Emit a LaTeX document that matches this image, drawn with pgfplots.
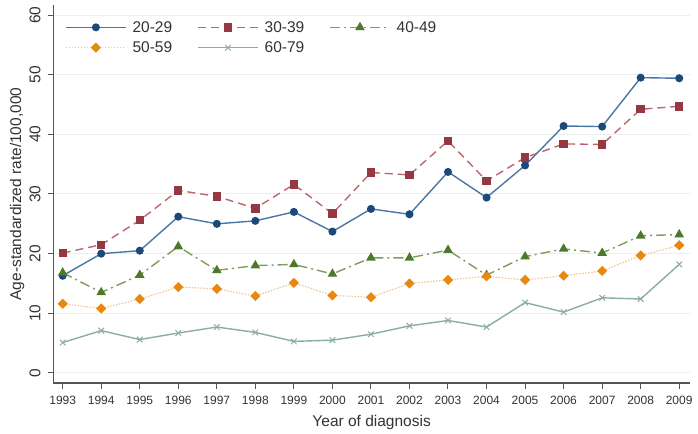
\documentclass[border=0pt]{standalone}
\usepackage{fontspec}
\setmainfont{Liberation Sans}
\usepackage{pgfplots}
\pgfplotsset{compat=1.18}

\definecolor{c20}{HTML}{1B4A7A}
\definecolor{c20l}{HTML}{4A76A6}
\definecolor{c30}{HTML}{963842}
\definecolor{c30l}{HTML}{BE6470}
\definecolor{c40}{HTML}{4C7A2A}
\definecolor{c40l}{HTML}{7E9C5C}
\definecolor{c50}{HTML}{E8880F}
\definecolor{c50l}{HTML}{F2C692}
\definecolor{c60}{HTML}{8AADA4}
\definecolor{gridc}{HTML}{E9F0F2}
\definecolor{axc}{HTML}{555555}
\definecolor{txt}{HTML}{333333}

\begin{document}
\begin{tikzpicture}
\useasboundingbox (-53.3pt,-50.7pt) rectangle (644.7pt,383pt);
\begin{axis}[
    scale only axis,
    width=636.7pt, height=378pt,
    xmin=1992.756, xmax=2009.28,
    ymin=-1.68, ymax=61.68,
    axis lines*=left,
    axis line style={axc, line width=1.1pt},
    xtick={1993,...,2009},
    ytick={0,10,...,60},
    xticklabel style={/pgf/number format/set thousands separator={},
        font=\fontsize{12}{13}\selectfont},
    /pgf/number format/assume math mode=true,
    tick align=outside,
    major tick length=5.5pt,
    tick style={axc, line width=1pt},
    ymajorgrids,
    grid style={gridc, line width=1pt},
    ticklabel style={text=txt},
    xticklabel shift=4pt,
    yticklabel style={rotate=90, anchor=south, inner sep=2pt,
        font=\fontsize{15.5}{16}\selectfont},
    yticklabel shift=5pt,
    xlabel={Year of diagnosis},
    ylabel={Age-standardized rate/100,000},
    label style={font=\fontsize{15.5}{16}\selectfont, text=txt},
    xlabel style={at={(axis description cs:0.5,-0.105)}, anchor=center},
    ylabel style={at={(axis description cs:-0.057,0.5)}, anchor=center},
    legend columns=3,
    legend style={at={(11.7pt,364pt)}, anchor=north west, draw=none, fill=none,
        inner sep=0pt, font=\fontsize{15.5}{16}\selectfont, text=txt,
        /tikz/every even column/.append style={column sep=23pt},
        row sep=4pt},
    legend cell align=left,
    legend image code/.code={
        \draw[mark repeat=2, mark phase=2] plot coordinates {(0pt,0pt) (30pt,0pt) (60pt,0pt)};
        \path (64pt,0pt);
    },
]
\addplot[c20l, line width=1.4pt, mark=*, mark size=3.3pt,
    mark options={solid, fill=c20, draw=c20}] coordinates {
    (1993,16.3) (1994,20.0) (1995,20.5) (1996,26.2) (1997,25.0) (1998,25.5)
    (1999,27.0) (2000,23.7) (2001,27.5) (2002,26.6) (2003,33.7) (2004,29.4)
    (2005,34.8) (2006,41.4) (2007,41.3) (2008,49.5) (2009,49.4)
};
\addlegendentry{20-29}
\addplot[c30l, line width=1.4pt, dash pattern=on 8pt off 5pt, mark=square*, mark size=3.5pt,
    mark options={solid, fill=c30, draw=c30}] coordinates {
    (1993,20.1) (1994,21.5) (1995,25.6) (1996,30.6) (1997,29.6) (1998,27.6)
    (1999,31.6) (2000,26.7) (2001,33.6) (2002,33.2) (2003,38.9) (2004,32.2)
    (2005,36.1) (2006,38.4) (2007,38.3) (2008,44.2) (2009,44.7)
};
\addlegendentry{30-39}
\addplot[c40l, line width=1.4pt, dash pattern=on 10pt off 4pt on 2pt off 4pt, mark=triangle*, mark size=4.2pt,
    mark options={solid, fill=c40, draw=c40}] coordinates {
    (1993,16.8) (1994,13.5) (1995,16.4) (1996,21.2) (1997,17.2) (1998,18.0)
    (1999,18.2) (2000,16.6) (2001,19.3) (2002,19.3) (2003,20.6) (2004,16.4)
    (2005,19.5) (2006,20.8) (2007,20.1) (2008,23.0) (2009,23.2)
};
\addlegendentry{40-49}
\addplot[c50l, line width=1.2pt, dash pattern=on 1.5pt off 1.5pt, mark=square*, mark size=3pt,
    mark options={solid, rotate=45, fill=c50, draw=c50}] coordinates {
    (1993,11.6) (1994,10.8) (1995,12.4) (1996,14.4) (1997,14.1) (1998,12.9)
    (1999,15.1) (2000,13.0) (2001,12.7) (2002,15.0) (2003,15.6) (2004,16.2)
    (2005,15.6) (2006,16.3) (2007,17.1) (2008,19.7) (2009,21.4)
};
\addlegendentry{50-59}
\addplot[c60, line width=1.4pt, mark=x, mark size=4pt,
    mark options={solid, line width=1pt}] coordinates {
    (1993,5.1) (1994,7.1) (1995,5.6) (1996,6.7) (1997,7.7) (1998,6.8)
    (1999,5.3) (2000,5.5) (2001,6.5) (2002,7.9) (2003,8.8) (2004,7.7)
    (2005,11.8) (2006,10.2) (2007,12.6) (2008,12.4) (2009,18.2)
};
\addlegendentry{60-79}
\end{axis}
\end{tikzpicture}
\end{document}
